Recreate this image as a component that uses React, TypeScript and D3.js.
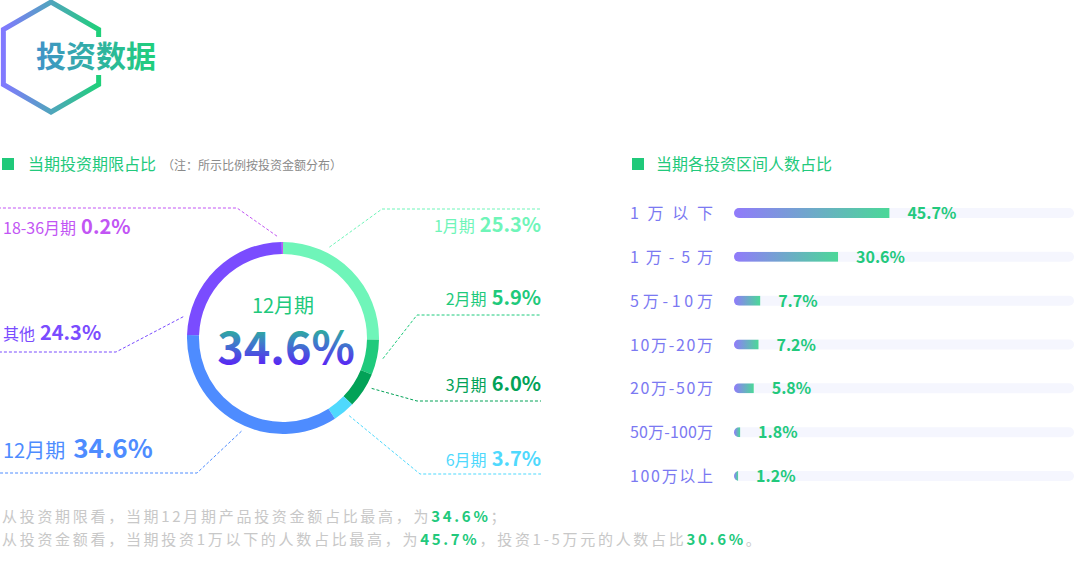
import * as d3 from "d3";
import { useEffect, useRef } from "react";

const FONT = '"Noto Sans CJK SC", "Noto Sans", sans-serif';

// donut: share by investment term
const periodNames = ["1月期", "2月期", "3月期", "6月期", "12月期", "其他", "18-36月期"];
const periodValues = [25.3, 5.9, 6.0, 3.7, 34.6, 24.3, 0.2];
const periodColors = ["#6ff5b9", "#1fca7c", "#02a257", "#4fd9fd", "#4e8cff", "#7a4cff", "#c255f4"];

// bars: share of people by amount interval
const intervalLabels = ["1万以下", "1万-5万", "5万-10万", "10万-20万", "20万-50万", "50万-100万", "100万以上"];
const intervalValues = [45.7, 30.6, 7.7, 7.2, 5.8, 1.8, 1.2];

// leader-line layout for the donut labels
const labelLayout = [
  { elbowX: 382, elbowY: 209, endX: 541, textY: 232, nudge: -18.5, big: false },
  { elbowX: 417, elbowY: 315, endX: 541, textY: 305, nudge: 0, big: false },
  { elbowX: 417, elbowY: 401, endX: 541, textY: 391, nudge: -3.5, big: false },
  { elbowX: 420, elbowY: 474, endX: 541, textY: 466, nudge: -1, big: false },
  { elbowX: 197, elbowY: 473, endX: 0, textY: 458, nudge: -5.5, big: true },
  { elbowX: 116, elbowY: 352, endX: 0, textY: 340, nudge: -33.5, big: false },
  { elbowX: 237, elbowY: 208, endX: 0, textY: 234, nudge: -3, big: false },
];

export default function App() {
  const containerRef = useRef<HTMLDivElement>(null);

  useEffect(() => {
    document.body.style.margin = "0";
    if (!containerRef.current) return;
    const container = containerRef.current;
    container.innerHTML = "";

    const width = 1080;
    const height = 568;

    const svg = d3
      .select(container)
      .append("svg")
      .attr("width", width)
      .attr("height", height)
      .style("display", "block")
      .style("font-family", FONT);

    const defs = svg.append("defs");

    // -----------------------------
    // HEADER
    // -----------------------------
    const hexGrad = defs.append("linearGradient").attr("id", "hexGrad")
      .attr("x1", 0).attr("y1", 0).attr("x2", 1).attr("y2", 0);
    hexGrad.append("stop").attr("offset", 0).attr("stop-color", "#8179ff");
    hexGrad.append("stop").attr("offset", 1).attr("stop-color", "#1fd07a");

    const titleGrad = defs.append("linearGradient").attr("id", "titleGrad")
      .attr("x1", 0).attr("y1", 0).attr("x2", 1).attr("y2", 0);
    titleGrad.append("stop").attr("offset", 0).attr("stop-color", "#4192c9");
    titleGrad.append("stop").attr("offset", 1).attr("stop-color", "#1fd07b");

    const hexR = 55;
    const hexPts = d3.range(6).map((i) => {
      const a = ((-90 + i * 60) * Math.PI) / 180;
      return [51 + hexR * Math.cos(a), 57 + hexR * Math.sin(a)];
    });
    svg.append("polygon")
      .attr("points", hexPts.map((p) => p.join(",")).join(" "))
      .attr("fill", "none")
      .attr("stroke", "url(#hexGrad)")
      .attr("stroke-width", 5);

    svg.append("rect").attr("x", 33).attr("y", 37).attr("width", 130).attr("height", 38).attr("fill", "#fff");
    svg.append("text")
      .attr("x", 36).attr("y", 67)
      .style("font-size", "30px").style("font-weight", "bold")
      .attr("fill", "url(#titleGrad)")
      .text("投资数据");

    // section headers
    svg.append("rect").attr("x", 2).attr("y", 158).attr("width", 12).attr("height", 12).attr("fill", "#20c97a");
    const h1 = svg.append("text").attr("x", 28).attr("y", 170).style("font-size", "16px").attr("fill", "#22c97c");
    h1.append("tspan").text("当期投资期限占比");
    h1.append("tspan").attr("dx", 6).style("font-size", "12px").attr("fill", "#8a8a8a").text("（注：所示比例按投资金额分布）");

    svg.append("rect").attr("x", 632).attr("y", 158).attr("width", 12).attr("height", 12).attr("fill", "#20c97a");
    svg.append("text").attr("x", 656).attr("y", 170).style("font-size", "16px").attr("fill", "#22c97c")
      .text("当期各投资区间人数占比");

    // -----------------------------
    // DONUT
    // -----------------------------
    const cx = 283;
    const cy = 338;
    const pie = d3.pie<number>().sort(null).value((d) => d);
    const arcs = pie(periodValues);
    const arc = d3.arc<d3.PieArcDatum<number>>().innerRadius(84).outerRadius(96);

    const donut = svg.append("g").attr("transform", `translate(${cx},${cy})`);
    donut.selectAll("path")
      .data(arcs)
      .enter()
      .append("path")
      .attr("d", arc)
      .attr("fill", (_, i) => periodColors[i]);

    // leader lines + labels
    arcs.forEach((a, i) => {
      const L = labelLayout[i];
      const ang = (a.startAngle + a.endAngle) / 2 + (L.nudge * Math.PI) / 180;
      const sx = cx + 102 * Math.sin(ang);
      const sy = cy - 102 * Math.cos(ang);
      const pts: [number, number][] = [[sx, sy], [L.elbowX, L.elbowY], [L.endX, L.elbowY]];
      svg.append("path")
        .attr("d", d3.line()(pts))
        .attr("fill", "none")
        .attr("stroke", periodColors[i])
        .attr("stroke-width", 1)
        .attr("stroke-dasharray", "3,2");

      const right = L.endX > cx;
      const t = svg.append("text")
        .attr("x", right ? L.endX : 3)
        .attr("y", L.textY)
        .attr("text-anchor", right ? "end" : "start")
        .attr("fill", periodColors[i]);
      t.append("tspan").style("font-size", L.big ? "20px" : "16px").text(periodNames[i]);
      t.append("tspan")
        .attr("dx", L.big ? 8 : 5)
        .style("font-size", L.big ? "26px" : "20px")
        .style("font-weight", "bold")
        .text(`${periodValues[i].toFixed(1)}%`);
    });

    // center text
    const maxIdx = periodValues.indexOf(d3.max(periodValues)!);
    const centerGrad = defs.append("linearGradient").attr("id", "centerGrad")
      .attr("x1", 0).attr("y1", 0.15).attr("x2", 0).attr("y2", 0.85);
    centerGrad.append("stop").attr("offset", 0).attr("stop-color", "#22cc80");
    centerGrad.append("stop").attr("offset", 0.45).attr("stop-color", "#3d7fc8");
    centerGrad.append("stop").attr("offset", 1).attr("stop-color", "#5b1ef8");

    svg.append("text")
      .attr("x", cx).attr("y", 313).attr("text-anchor", "middle")
      .style("font-size", "20px").attr("fill", "#20c97c")
      .text(periodNames[maxIdx]);
    svg.append("text")
      .attr("x", cx + 3).attr("y", 364).attr("text-anchor", "middle")
      .style("font-size", "45px").style("font-weight", "bold")
      .attr("fill", "url(#centerGrad)")
      .text(`${periodValues[maxIdx]}%`);

    // -----------------------------
    // BARS
    // -----------------------------
    const x = d3.scaleLinear().domain([0, 100]).range([734, 1074]);
    const y = d3.scalePoint<string>().domain(intervalLabels).range([213, 476]);
    const barH = 10;

    const barGrad = defs.append("linearGradient").attr("id", "barGrad")
      .attr("x1", 0).attr("y1", 0).attr("x2", 1).attr("y2", 0);
    barGrad.append("stop").attr("offset", 0).attr("stop-color", "#917afb");
    barGrad.append("stop").attr("offset", 1).attr("stop-color", "#4bd898");

    defs.append("clipPath").attr("id", "trackClip")
      .append("rect")
      .attr("x", x(0)).attr("y", -barH / 2)
      .attr("width", x(100) - x(0)).attr("height", barH)
      .attr("rx", barH / 2);

    const rows = svg.selectAll("g.row")
      .data(intervalLabels)
      .enter()
      .append("g")
      .attr("class", "row")
      .attr("transform", (d) => `translate(0,${y(d)})`);

    rows.append("rect")
      .attr("x", x(0)).attr("y", -barH / 2)
      .attr("width", x(100) - x(0)).attr("height", barH)
      .attr("rx", barH / 2)
      .attr("fill", "#f5f6fe");

    rows.append("rect")
      .attr("clip-path", "url(#trackClip)")
      .attr("x", x(0)).attr("y", -barH / 2)
      .attr("width", (_, i) => x(intervalValues[i]) - x(0))
      .attr("height", barH)
      .attr("fill", "url(#barGrad)");

    rows.append("text")
      .attr("x", 630).attr("y", 6)
      .attr("textLength", 83).attr("lengthAdjust", "spacing")
      .style("font-size", "16px")
      .attr("fill", "#7b79f2")
      .text((d) => d);

    rows.append("text")
      .attr("x", (_, i) => x(intervalValues[i]) + 18)
      .attr("y", 6)
      .style("font-size", "16px").style("font-weight", "bold")
      .attr("fill", "#22c97c")
      .text((_, i) => `${intervalValues[i]}%`);

    // -----------------------------
    // SUMMARY TEXT
    // -----------------------------
    const summary = [
      [["从投资期限看，当期12月期产品投资金额占比最高，为", false], [`${periodValues[maxIdx]}%`, true], ["；", false]],
      [["从投资金额看，当期投资1万以下的人数占比最高，为", false], [`${intervalValues[0]}%`, true],
        ["，投资1-5万元的人数占比", false], [`${intervalValues[1]}%`, true], ["。", false]],
    ] as [string, boolean][][];

    summary.forEach((line, li) => {
      const t = svg.append("text").attr("x", 2).attr("y", 522 + li * 23)
        .style("font-size", "15px").style("letter-spacing", "2.7px").attr("fill", "#c8c8c8");
      line.forEach(([s, hi]) => {
        const sp = t.append("tspan").text(s);
        if (hi) sp.attr("fill", "#22c97c").style("font-weight", "bold");
      });
    });
  }, []);

  return <div ref={containerRef} />;
}
